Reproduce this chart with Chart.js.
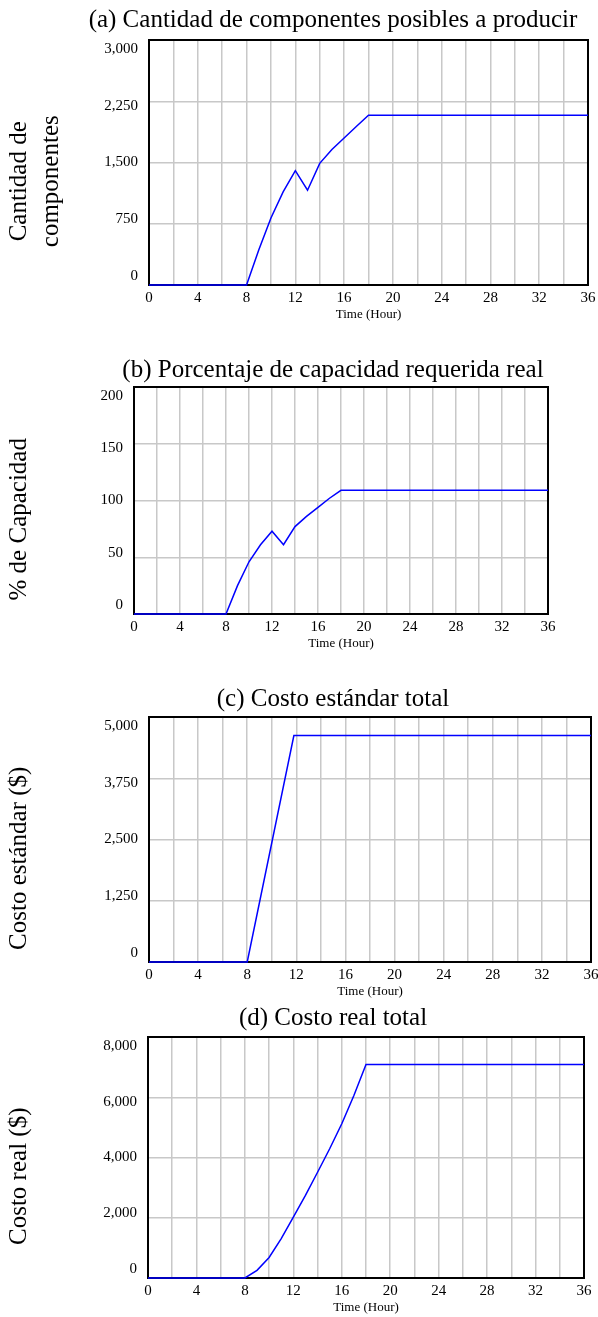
<!DOCTYPE html>
<html lang="es">
<head>
<meta charset="utf-8">
<title>Componentes, capacidad y costos</title>
<script src="https://cdn.jsdelivr.net/npm/chart.js@4/dist/chart.umd.min.js"></script>
<style>
  html, body { margin: 0; padding: 0; background: #fff; overflow: hidden; }
  body { width: 598px; height: 1317px; position: relative; }
  canvas { position: absolute; left: 0; }
</style>
</head>
<body>
<canvas id="grafA" width="666" height="320" style="top:5px"></canvas>
<canvas id="grafB" width="666" height="299" style="top:355px"></canvas>
<canvas id="grafC" width="666" height="318" style="top:684px"></canvas>
<canvas id="grafD" width="666" height="315" style="top:1003px"></canvas>
<script>
const horas = [0, 8, 9, 10, 11, 12, 13, 14, 15, 16, 17, 18, 36];
const componentes = [0, 0, 430, 820, 1140, 1400, 1160, 1490, 1660, 1800, 1940, 2080, 2080];
const porcentaje = [0, 0, 25, 46, 61, 73, 61, 77, 86, 94, 102, 109, 109];
const costoReal = [0, 0, 255, 680, 1310, 2020, 2740, 3510, 4290, 5120, 6060, 7090, 7090];

const horasEstandar = [0, 8, 11.8, 36];
const costoEstandar = [0, 0, 4620, 4620];

const marcasHora = [0, 4, 8, 12, 16, 20, 24, 28, 32, 36];
const ticksComponentes = [0, 750, 1500, 2250, 3000];
const ticksPorcentaje = [0, 50, 100, 150, 200];
const ticksEstandar = [0, 1250, 2500, 3750, 5000];
const ticksReal = [0, 2000, 4000, 6000, 8000];

const fuente = '"Liberation Serif", "Times New Roman", serif';
const ANCHO = 666; // lienzo mas ancho que la ventana para centrar el titulo en x=333

// marco negro y etiquetas del eje Y algo metidas hacia dentro, como en Vensim
const marcoVensim = {
  id: 'marcoVensim',
  beforeDatasetsDraw(chart) {
    const { ctx, chartArea: a } = chart;
    ctx.save();
    ctx.strokeStyle = '#000';
    ctx.lineWidth = 2;
    ctx.strokeRect(a.left, a.top, a.right - a.left, a.bottom - a.top);
    ctx.restore();
  },
  afterDraw(chart) {
    const { ctx, chartArea: a, scales: { y } } = chart;
    ctx.save();
    ctx.font = '15px ' + fuente;
    ctx.fillStyle = '#000';
    ctx.textAlign = 'right';
    ctx.textBaseline = 'middle';
    y.ticks.forEach(t => {
      const py = y.getPixelForValue(t.value);
      const f = (py - a.top) / (a.bottom - a.top);
      ctx.fillText(t.label, a.left - 11, py + 9 - 18 * f);
    });
    ctx.restore();
  }
};

function crearGrafico(id, p) {
  new Chart(document.getElementById(id), {
    type: 'line',
    data: {
      datasets: [{
        data: p.xs.map((h, i) => ({ x: h, y: p.ys[i] })),
        borderColor: '#0000ff',
        borderWidth: 1.5,
        pointRadius: 0,
        tension: 0,
        clip: 3
      }]
    },
    options: {
      responsive: false,
      animation: false,
      plugins: {
        legend: { display: false },
        tooltip: { enabled: false },
        title: {
          display: true,
          text: p.titulo,
          color: '#000',
          font: { family: fuente, size: 25, weight: 'normal', lineHeight: 1.2 },
          padding: { top: 0, bottom: p.bajoTitulo }
        }
      },
      scales: {
        x: {
          type: 'linear',
          min: 0,
          max: 36,
          grid: { color: '#c8c8c8', lineWidth: 1.5, drawTicks: false },
          border: { display: false },
          ticks: {
            stepSize: 2,
            autoSkip: false,
            maxRotation: 0,
            padding: 4,
            color: '#000',
            font: { family: fuente, size: 15 },
            callback: v => marcasHora.includes(v) ? String(v) : ''
          },
          title: {
            display: true,
            text: 'Time (Hour)',
            color: '#000',
            font: { family: fuente, size: 13 },
            padding: { top: 0, bottom: 3 }
          },
          afterFit: s => { s.height = 40; }
        },
        y: {
          min: 0,
          max: p.ticksY[p.ticksY.length - 1],
          afterBuildTicks: s => { s.ticks = p.ticksY.map(v => ({ value: v })); },
          grid: { color: '#c8c8c8', lineWidth: 1.5, drawTicks: false },
          border: { display: false },
          ticks: { display: false },
          title: {
            display: true,
            text: p.tituloY,
            color: '#000',
            font: { family: fuente, size: 25, lineHeight: 1.3 },
            padding: { top: 3, bottom: 0 }
          },
          afterFit: s => { s.width = p.izq; }
        },
        relleno: {
          axis: 'y',
          position: 'right',
          grid: { display: false },
          border: { display: false },
          ticks: { display: false },
          afterFit: s => { s.width = ANCHO - p.der; }
        }
      }
    },
    plugins: [marcoVensim]
  });
}

crearGrafico('grafA', {
  titulo: '(a) Cantidad de componentes posibles a producir',
  tituloY: ['Cantidad de      ', 'componentes      '],
  xs: horas, ys: componentes, ticksY: ticksComponentes,
  izq: 149, der: 588, bajoTitulo: 5
});
crearGrafico('grafB', {
  titulo: '(b) Porcentaje de capacidad requerida real',
  tituloY: '% de Capacidad      ',
  xs: horas, ys: porcentaje, ticksY: ticksPorcentaje,
  izq: 134, der: 548, bajoTitulo: 2
});
crearGrafico('grafC', {
  titulo: '(c) Costo estándar total',
  tituloY: 'Costo estándar ($)      ',
  xs: horasEstandar, ys: costoEstandar, ticksY: ticksEstandar,
  izq: 149, der: 591, bajoTitulo: 3
});
crearGrafico('grafD', {
  titulo: '(d) Costo real total',
  tituloY: 'Costo real ($)      ',
  xs: horas, ys: costoReal, ticksY: ticksReal,
  izq: 148, der: 584, bajoTitulo: 4
});
</script>
</body>
</html>
